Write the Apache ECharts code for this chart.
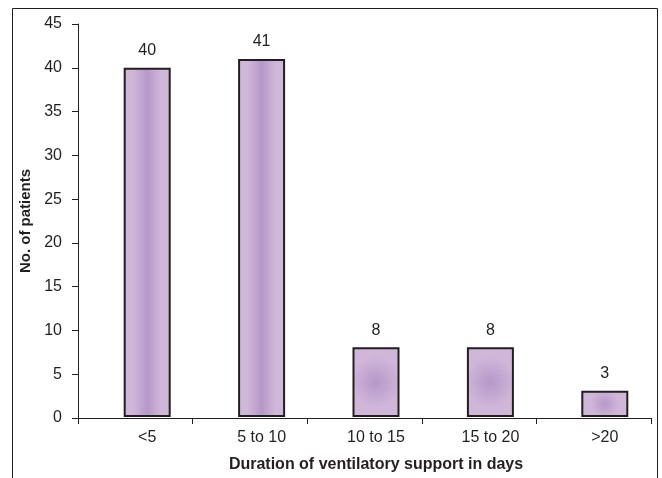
<!DOCTYPE html>
<html>
<head>
<meta charset="utf-8">
<script src="https://cdn.jsdelivr.net/npm/echarts@6/dist/echarts.min.js"></script>
<style>
html,body{margin:0;padding:0;background:#fff;}
#c{width:662px;height:478px;}
</style>
</head>
<body>
<div id="c"></div>
<script>
const categories = ['<5', '5 to 10', '10 to 15', '15 to 20', '>20'];
const patients = [40, 41, 8, 8, 3];
const yTicks = { min: 0, max: 45, interval: 5 };
const xTitle = 'Duration of ventilatory support in days';
const yTitle = 'No. of patients';

const ink = '#231f20';
const font = '"Liberation Sans", Arial, sans-serif';
const edgeColor = '#d0b7d9';
const coreColor = '#b698c9';

function barFill(params) {
  if (params.value > 20) {
    return {
      type: 'linear', x: 0, y: 0, x2: 1, y2: 0,
      colorStops: [
        { offset: 0, color: edgeColor },
        { offset: 0.2, color: edgeColor },
        { offset: 0.5, color: coreColor },
        { offset: 0.8, color: edgeColor },
        { offset: 1, color: edgeColor }
      ]
    };
  }
  return {
    type: 'radial', x: 0.5, y: 0.5, r: 0.55,
    colorStops: [
      { offset: 0, color: coreColor },
      { offset: 1, color: edgeColor }
    ]
  };
}

const chart = echarts.init(document.getElementById('c'));
chart.setOption({
  backgroundColor: '#fff',
  animation: false,
  graphic: [{
    type: 'rect', shape: { x: 12.5, y: 8.5, width: 645, height: 480 },
    style: { fill: 'none', stroke: ink, lineWidth: 1 }, z: 0
  }],
  grid: [
    { left: 90, top: 24, width: 573, height: 394 },
    { left: 78, top: 24, width: 573, height: 394 }
  ],
  xAxis: [
    {
      type: 'category', gridIndex: 0, data: categories,
      axisLine: { show: false }, axisTick: { show: false },
      axisLabel: { color: ink, fontFamily: font, fontSize: 16, margin: 13 },
      name: xTitle, nameLocation: 'middle', nameGap: 40,
      nameTextStyle: { color: ink, fontFamily: font, fontSize: 16, fontWeight: 'bold' }
    },
    {
      type: 'category', gridIndex: 1, data: categories,
      axisLine: { show: true, lineStyle: { color: ink, width: 1 } },
      axisTick: { show: true, length: 6, lineStyle: { color: ink } },
      axisLabel: { show: false }
    }
  ],
  yAxis: [
    {
      type: 'value', gridIndex: 0, min: yTicks.min, max: yTicks.max, interval: yTicks.interval,
      show: false
    },
    {
      type: 'value', gridIndex: 1, min: yTicks.min, max: yTicks.max, interval: yTicks.interval,
      axisLine: { show: true, lineStyle: { color: ink, width: 1 } },
      axisTick: { show: true, length: 6, lineStyle: { color: ink } },
      splitLine: { show: false },
      axisLabel: { color: ink, fontFamily: font, fontSize: 16, margin: 16 },
      name: yTitle, nameLocation: 'middle', nameGap: 44, nameRotate: 90,
      nameTextStyle: { color: ink, fontFamily: font, fontSize: 15, fontWeight: 'bold' }
    }
  ],
  series: [
    {
      type: 'bar', xAxisIndex: 0, yAxisIndex: 0, data: patients,
      barWidth: 47,
      itemStyle: { color: barFill, borderColor: ink, borderWidth: 2 },
      label: { show: true, position: 'top', distance: 9, color: ink, fontFamily: font, fontSize: 16 }
    },
    { type: 'bar', xAxisIndex: 1, yAxisIndex: 1, data: [] }
  ]
});
</script>
</body>
</html>
